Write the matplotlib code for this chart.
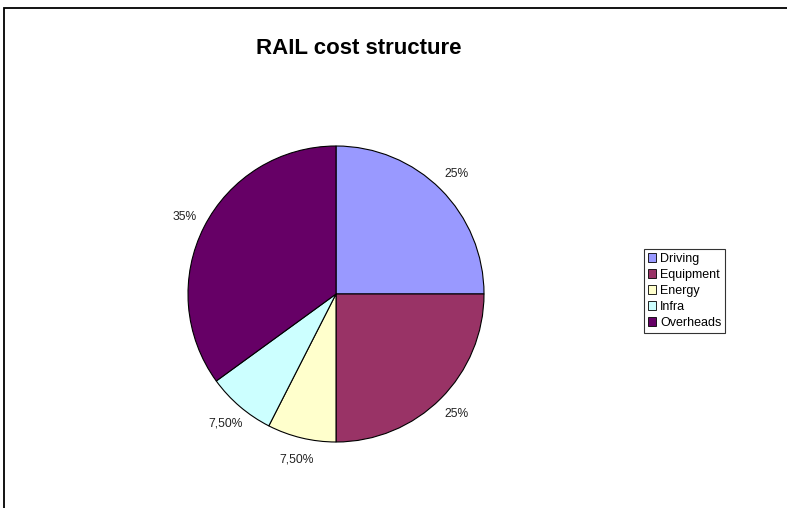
import matplotlib.pyplot as plt
from matplotlib.patches import Rectangle

# dati struttura costi ferrovia
categories = ["Driving", "Equipment", "Energy", "Infra", "Overheads"]
shares = [25, 25, 7.5, 7.5, 35]
colors = ["#9999FF", "#993366", "#FFFFCC", "#CCFFFF", "#660066"]


def fmt(v):
    # formato europeo: virgola decimale
    if v == int(v):
        return "%d%%" % v
    return ("%.2f%%" % v).replace(".", ",")


plt.rcParams['font.family'] = ['Liberation Sans', 'DejaVu Sans']

fig = plt.figure(figsize=(7.87, 5.08), dpi=100)
ax = fig.add_axes([188/787, 66/508, 296/787, 296/508])

wedges, texts = ax.pie(shares, colors=colors, startangle=90, counterclock=False,
                       labels=[fmt(v) for v in shares], labeldistance=1.15,
                       wedgeprops=dict(edgecolor="black", linewidth=0.8),
                       textprops=dict(fontsize=8.7, color="#222222"))
for t in texts:
    t.set_ha("center")
    t.set_va("center")
ax.set_xlim(-1, 1)
ax.set_ylim(-1, 1)

fig.text(359/787, 1 - 49/508, "RAIL cost structure", ha="center", va="center",
         fontsize=16, fontweight="bold")

leg = fig.legend(wedges, categories, loc="upper left",
                 bbox_to_anchor=(644/787, 1 - 249/508), fontsize=9,
                 frameon=True, fancybox=False, edgecolor="black",
                 handlelength=0.65, handleheight=0.65, handletextpad=0.35,
                 labelspacing=0.32, borderpad=0.3, borderaxespad=0)
leg.get_frame().set_linewidth(0.8)
for h in leg.legend_handles:
    h.set_linewidth(0.6)

# cornice del grafico (bordo sinistro e superiore)
fig.patches.append(Rectangle((4/787, -0.1), 1.2, 1.1 - 8/508, transform=fig.transFigure,
                             fill=False, edgecolor="black", linewidth=1.3))

fig.savefig("out.png", dpi=100)
